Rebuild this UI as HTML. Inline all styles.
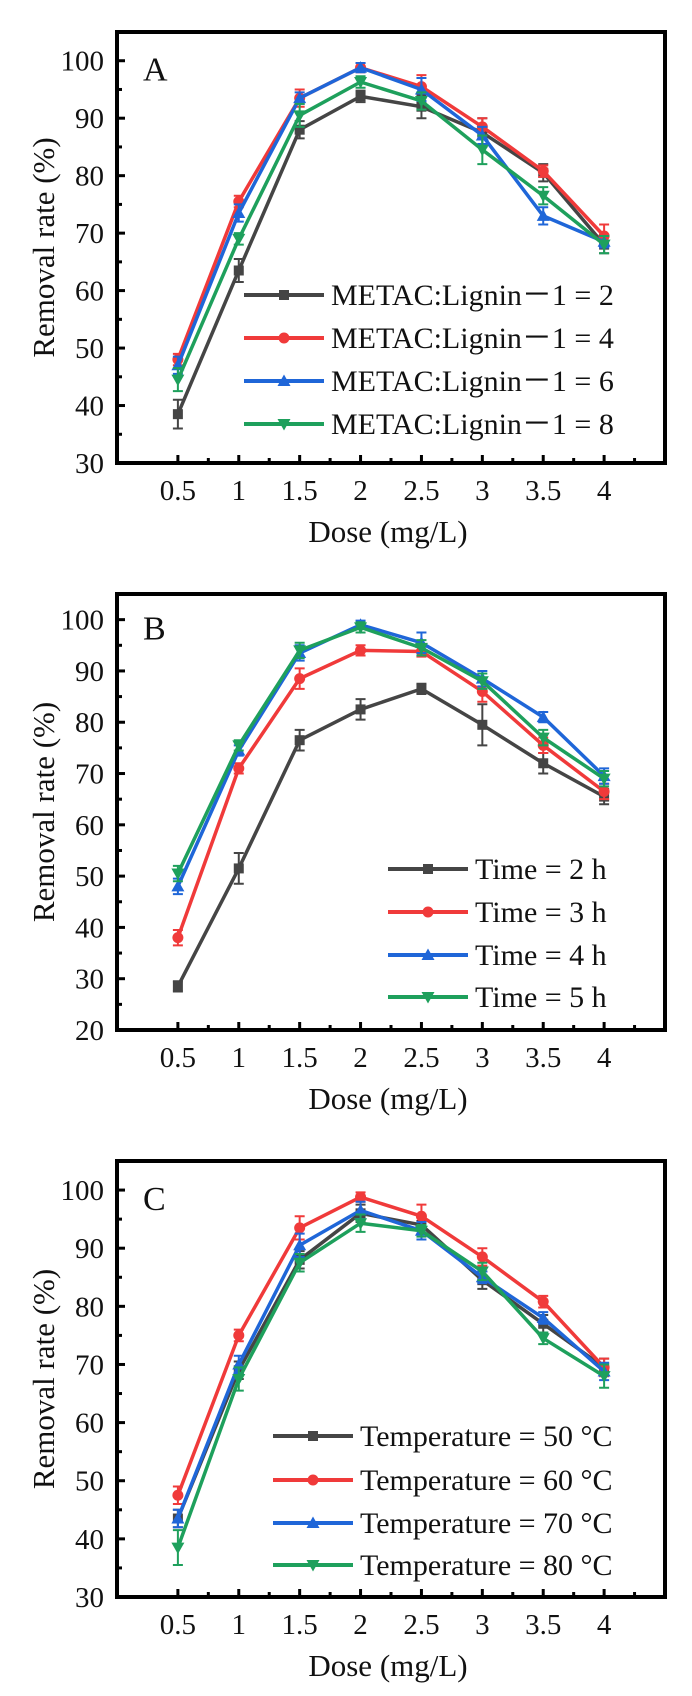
<!DOCTYPE html>
<html><head><meta charset="utf-8"><style>
html,body{margin:0;padding:0;background:#fff}
svg{display:block}
svg text{font-family:"Liberation Serif","Times New Roman",serif !important;fill:#111}
</style></head><body>
<svg id="fig" width="692" height="1696" viewBox="0 0 692 1696" xmlns="http://www.w3.org/2000/svg" font-family="'Liberation Serif', serif"></svg>
<script>
const doses = [0.5,1,1.5,2,2.5,3,3.5,4];
const xTicks = ["0.5","1","1.5","2","2.5","3","3.5","4"];
// Panel A
const aLabels = ["METAC:Lignin－1 = 2","METAC:Lignin－1 = 4","METAC:Lignin－1 = 6","METAC:Lignin－1 = 8"];
const aS1 = [38.5,63.5,88,93.8,92,87.5,80.5,68];
const aS2 = [48,75.5,93.5,98.8,95.5,88.5,80.8,69.5];
const aS3 = [47,73.5,93.5,98.8,95,87,73,68.5];
const aS4 = [44.5,69,90.5,96.3,93,84.5,76.5,68];
const aE1 = [2.5,2,1.5,1,2,2.5,1.5,1.5];
const aE2 = [1,1,1.5,0.8,2,1.5,1,2];
const aE3 = [1.5,1.5,1,0.8,2,1.5,1.5,1];
const aE4 = [2,1,2,1,1.5,2.5,1.5,1.5];
const aYTicks = [30,40,50,60,70,80,90,100];
// Panel B
const bLabels = ["Time = 2 h","Time = 3 h","Time = 4 h","Time = 5 h"];
const bS1 = [28.5,51.5,76.5,82.5,86.5,79.5,72,65.5];
const bS2 = [38,71,88.5,94,93.8,86,75.5,66.5];
const bS3 = [48,74.5,93.5,99,95.5,88.5,81,69.5];
const bS4 = [50.5,75.5,94,98.5,94.5,88,77,69];
const bE1 = [1,3,2,2,1,4,2,1.5];
const bE2 = [1.5,1,2,1,1,2,1.5,1.5];
const bE3 = [1.5,1,1.5,0.8,2,1.5,1,1.5];
const bE4 = [1.5,1,1.5,1,1.5,1.5,1.5,1.5];
const bYTicks = [20,30,40,50,60,70,80,90,100];
// Panel C
const cLabels = ["Temperature = 50 °C","Temperature = 60 °C","Temperature = 70 °C","Temperature = 80 °C"];
const cS1 = [43.5,69,88,96,94,84.5,77,69.5];
const cS2 = [47.5,75,93.5,98.8,95.5,88.5,80.8,69.5];
const cS3 = [43.5,70,90.5,96.5,93,85,78,68.8];
const cS4 = [38.5,67.5,87.5,94.3,93,86,74.5,68];
const cE1 = [1.5,1.5,1.5,1.5,1.5,1.5,1.5,1.5];
const cE2 = [1.5,1,2,0.8,2,1.5,1,1.5];
const cE3 = [1.5,1.5,2,1.5,1.5,1,1,1.5];
const cE4 = [3,2,1.5,1.5,1,1.5,1,2];
const cYTicks = [30,40,50,60,70,80,90,100];

const colors = ["#454545","#f03a3a","#1f66d8","#1ea05c"];
const markers = ["square","circle","up","down"];
const NS = "http://www.w3.org/2000/svg";
const svg = document.getElementById("fig");
function mk(tag, attrs, parent){const e=document.createElementNS(NS,tag);for(const k in attrs)e.setAttribute(k,attrs[k]);(parent||svg).appendChild(e);return e;}
const FF = "Liberation Serif, serif";

function marker(g, type, x, y, c){
  let m;
  if(type==="square") m=mk("rect",{x:x-5,y:y-5,width:10,height:10,fill:c},g);
  else if(type==="circle") m=mk("circle",{cx:x,cy:y,r:5.5,fill:c},g);
  else if(type==="up") m=mk("polygon",{points:`${x},${y-6.5} ${x-6.5},${y+5} ${x+6.5},${y+5}`,fill:c},g);
  else m=mk("polygon",{points:`${x},${y+6.5} ${x-6.5},${y-5} ${x+6.5},${y-5}`,fill:c},g);
  return m;
}

function panel(p){
  const L=117,R=665,T=p.top,B=p.bottom;
  const x=v=>L+(v-0)/(4.5-0)*(R-L);
  const y=v=>B-(v-p.ymin)/(105-p.ymin)*(B-T);
  const g=mk("g",{});
  
  
  p.series.forEach((s,i)=>{
    const sg=mk("g",{},g);
    
    
    const pts=doses.map((d,j)=>x(d)+","+y(s[j])).join(" ");
    mk("polyline",{points:pts,fill:"none",stroke:colors[i],"stroke-width":3.5,"stroke-linejoin":"round"},sg);
    doses.forEach((d,j)=>{
      const xx=x(d),e=p.errs[i][j];
      const eb=mk("path",{d:`M${xx},${y(s[j]-e)}V${y(s[j]+e)}M${xx-5},${y(s[j]-e)}H${xx+5}M${xx-5},${y(s[j]+e)}H${xx+5}`,stroke:colors[i],"stroke-width":2,fill:"none"},sg);
      
      
      const m=marker(sg,markers[i],xx,y(s[j]),colors[i]);
      
      
    });
  });
  const fr=mk("rect",{x:L,y:T,width:R-L,height:B-T,fill:"none",stroke:"#000","stroke-width":4},g);
  
  
  doses.forEach((d,j)=>{
    mk("line",{x1:x(d),x2:x(d),y1:B,y2:B-8,stroke:"#000","stroke-width":3},g);
    mk("line",{x1:x(d+0.25),x2:x(d+0.25),y1:B,y2:B-5,stroke:"#000","stroke-width":3},g);
    const t=mk("text",{x:x(d),y:B+37,"font-size":29,"text-anchor":"middle","font-family":FF},g);
    t.textContent=xTicks[j];
    
    
  });
  p.yticks.forEach(v=>{
    mk("line",{x1:L,x2:L+8,y1:y(v),y2:y(v),stroke:"#000","stroke-width":3},g);
    if(v+5<105) mk("line",{x1:L,x2:L+5,y1:y(v+5),y2:y(v+5),stroke:"#000","stroke-width":3},g);
    const t=mk("text",{x:104,y:y(v)+10,"font-size":29,"text-anchor":"end","font-family":FF},g);
    t.textContent=v;
    
    
  });
  const yt=mk("text",{x:0,y:0,"font-size":31,"text-anchor":"middle","font-family":FF,transform:`translate(54,${(T+B)/2}) rotate(-90)`},g);
  yt.textContent="Removal rate (%)";
  
  
  const xt=mk("text",{x:388,y:B+79,"font-size":31,"text-anchor":"middle","font-family":FF},g);
  xt.textContent="Dose (mg/L)";
  
  
  const lt=mk("text",{x:143,y:y(100)+20,"font-size":34,"font-family":FF},g);
  lt.textContent=p.id;
  
  
  p.labels.forEach((lab,i)=>{
    const lg=mk("g",{},g);
    
    
    const ry=p.legRows[i];
    mk("line",{x1:p.legX,x2:p.legX+80,y1:ry,y2:ry,stroke:colors[i],"stroke-width":4},lg);
    marker(lg,markers[i],p.legX+40,ry,colors[i]);
    const t=mk("text",{x:p.legX+87,y:ry+10,"font-size":30,"font-family":FF},lg);
    t.textContent=lab;
  });
}
panel({id:"A",top:32,bottom:463,ymin:30,yticks:aYTicks,series:[aS1,aS2,aS3,aS4],errs:[aE1,aE2,aE3,aE4],labels:aLabels,legX:244,legRows:[295,338,381,424]});
panel({id:"B",top:594,bottom:1030,ymin:20,yticks:bYTicks,series:[bS1,bS2,bS3,bS4],errs:[bE1,bE2,bE3,bE4],labels:bLabels,legX:388,legRows:[869,912,955,997]});
panel({id:"C",top:1161,bottom:1597,ymin:30,yticks:cYTicks,series:[cS1,cS2,cS3,cS4],errs:[cE1,cE2,cE3,cE4],labels:cLabels,legX:273,legRows:[1436,1480,1523,1565]});
</script>
</body></html>
